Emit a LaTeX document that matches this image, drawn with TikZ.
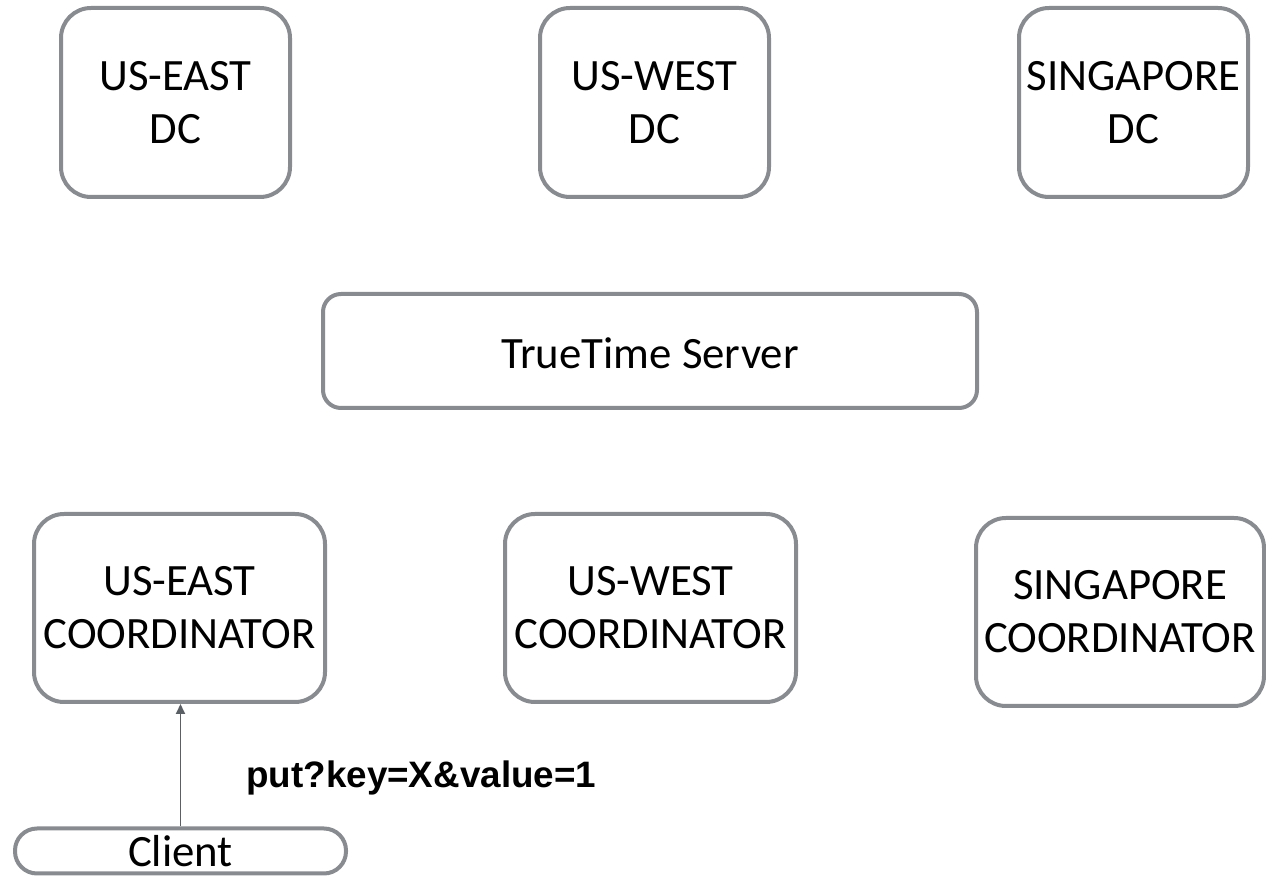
\documentclass[tikz,border=0pt]{standalone}
\usepackage{fontspec}
\setmainfont{Carlito}
\newfontfamily\labelfont{Liberation Sans}
\usetikzlibrary{arrows.meta}
\definecolor{boxgray}{HTML}{888B8F}
\definecolor{linkgray}{HTML}{5A5F66}
\begin{document}
\begin{tikzpicture}[x=0.5pt,y=-0.5pt,
  box/.style={draw=boxgray, line width=2pt, fill=white, rounded corners=15pt,
    align=center, inner sep=0pt,
    font=\fontsize{22.4pt}{26.5pt}\selectfont,
    execute at begin node={\rule{0pt}{17.5pt}}},
  pill/.style={draw=boxgray, line width=2pt, fill=white, rounded corners=11pt,
    inner sep=0pt, font=\fontsize{22.4pt}{26.5pt}\selectfont},
  link/.style={draw=linkgray, line width=0.9pt, -{Triangle[length=5pt,width=4.5pt]}},
  lbl/.style={anchor=west, inner sep=0pt, font=\labelfont\bfseries\fontsize{18.4pt}{22pt}\selectfont}]
\useasboundingbox (0,0) rectangle (1266,876);

% data centres
\node[box, minimum width=114.5pt, minimum height=94.5pt] (dceast) at (175.5,102.5) {US-EAST\\DC};
\node[box, minimum width=114.5pt, minimum height=94.5pt] (dcwest) at (654.5,102.5) {US-WEST\\DC};
\node[box, minimum width=114.5pt, minimum height=94.5pt] (dcsg) at (1133.5,102.5) {SINGAPORE\\DC};

% time service
\node[box, rounded corners=9pt, minimum width=327pt, minimum height=57pt] (tt) at (650,351) {TrueTime Server};

% coordinators
\node[box, minimum width=145.5pt, minimum height=94pt] (coeast) at (179.5,608) {US-EAST\\COORDINATOR};
\node[box, minimum width=145.5pt, minimum height=94pt] (cowest) at (650.5,608) {US-WEST\\COORDINATOR};
\node[box, minimum width=144pt, minimum height=94pt] (cosg) at (1120,612) {SINGAPORE\\COORDINATOR};

% client and its request
\node[pill, minimum width=165.5pt, minimum height=22.5pt] (client) at (180.5,851) {Client};
\draw[link] (client.north) -- (client.north |- coeast.south);
\node[lbl] (req) at (246,778) {put?key=X\&value=1};
\end{tikzpicture}
\end{document}
